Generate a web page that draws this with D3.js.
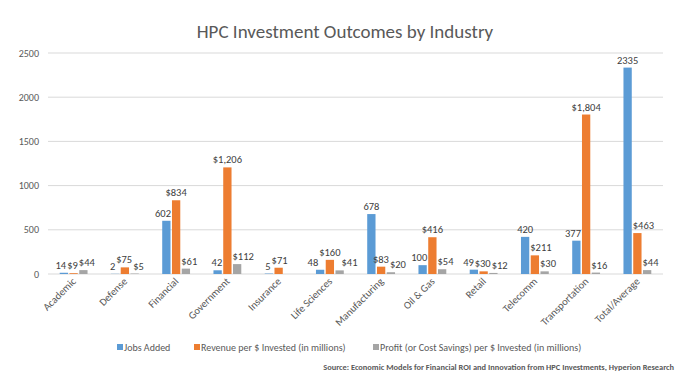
<!DOCTYPE html>
<html>
<head>
<meta charset="utf-8">
<script src="https://cdn.jsdelivr.net/npm/d3@7"></script>
<style>
  body { margin: 0; background: #fff; }
  text { font-family: Calibri, Carlito, "Open Sans", "Liberation Sans", sans-serif; }
</style>
</head>
<body>
<svg id="chart" width="689" height="385"></svg>
<script>
const categories = ["Academic", "Defense", "Financial", "Government", "Insurance", "Life Sciences",
  "Manufacturing", "Oil & Gas", "Retail", "Telecomm", "Transportation", "Total/Average"];
const jobs = [14, 2, 602, 42, 5, 48, 678, 100, 49, 420, 377, 2335];
const revenue = [9, 75, 834, 1206, 71, 160, 83, 416, 30, 211, 1804, 463];
const profit = [44, 5, 61, 112, null, 41, 20, 54, 12, 30, 16, 44];
const seriesNames = ["Jobs Added", "Revenue per $ Invested (in millions)", "Profit (or Cost Savings) per $ Invested (in millions)"];
const colors = ["#5B9BD5", "#ED7D31", "#A5A5A5"];
const yTicks = [0, 500, 1000, 1500, 2000, 2500];

const svg = d3.select("#chart");
const plotLeft = 48, plotRight = 663, plotTop = 53, plotBottom = 274;

const x = d3.scaleBand().domain(categories).range([plotLeft, plotRight]);
const xs = d3.scaleBand().domain([0, 1, 2]).range([0, x.bandwidth()]).paddingOuter(1.2).paddingInner(0.15);
const y = d3.scaleLinear().domain([0, 2500]).range([plotBottom, plotTop]);

svg.append("text")
  .attr("x", 345).attr("y", 38)
  .attr("text-anchor", "middle")
  .attr("font-size", 19)
  .attr("fill", "#595959")
  .text("HPC Investment Outcomes by Industry");

// gridlines
svg.append("g").selectAll("line")
  .data(yTicks)
  .enter().append("line")
  .attr("x1", plotLeft).attr("x2", plotRight)
  .attr("y1", d => y(d)).attr("y2", d => y(d))
  .attr("stroke", "#D9D9D9").attr("stroke-width", 1);

svg.append("g").selectAll("text")
  .data(yTicks)
  .enter().append("text")
  .attr("x", 39).attr("y", d => y(d) + 3.5)
  .attr("text-anchor", "end")
  .attr("font-size", 10)
  .attr("fill", "#595959")
  .text(d => d);

const all = [jobs, revenue, profit];
const fmt = [d => String(d), d => "$" + d3.format(",")(d), d => "$" + d3.format(",")(d)];

all.forEach(function(vals, s) {
  const items = vals.map((v, i) => ({v: v, c: categories[i]})).filter(d => d.v != null);
  svg.append("g").selectAll("rect")
    .data(items)
    .enter().append("rect")
    .attr("x", d => x(d.c) + xs(s))
    .attr("width", xs.bandwidth())
    .attr("y", d => y(d.v))
    .attr("height", d => plotBottom - y(d.v))
    .attr("fill", colors[s]);
});

// data labels, nudged sideways off taller neighbour bars and each other
const labelLayer = svg.append("g");
categories.forEach(function(c, i) {
  const labs = [];
  all.forEach(function(vals, s) {
    if (vals[i] == null) return;
    const t = labelLayer.append("text")
      .attr("text-anchor", "middle")
      .attr("font-size", 10.5)
      .attr("fill", "#404040")
      .text(fmt[s](vals[i]));
    labs.push({t: t, s: s, cx: x(c) + xs(s) + xs.bandwidth() / 2, y: y(vals[i]) - 4, w: t.node().getComputedTextLength()});
  });
  labs.forEach(function(l) {
    const prev = all[l.s - 1], next = all[l.s + 1];
    if (next && next[i] != null && y(next[i]) < l.y + 1) {
      const barL = x(c) + xs(l.s + 1);
      if (l.cx + l.w / 2 > barL - 1) l.cx = barL - 1 - l.w / 2;
    }
    if (prev && prev[i] != null && y(prev[i]) < l.y + 1) {
      const barR = x(c) + xs(l.s - 1) + xs.bandwidth();
      if (l.cx - l.w / 2 < barR + 1) l.cx = barR + 1 + l.w / 2;
    }
  });
  for (let k = 0; k < 4; k++) {
    for (let a = 0; a < labs.length - 1; a++) {
      const p = labs[a], q = labs[a + 1];
      if (Math.abs(p.y - q.y) < 11) {
        const gap = (q.cx - q.w / 2) - (p.cx + p.w / 2) - 1;
        if (gap < 0) { p.cx += gap / 2; q.cx -= gap / 2; }
      }
    }
  }
  labs.forEach(l => l.t.attr("x", l.cx).attr("y", l.y));
});

// x labels
svg.append("g").selectAll("text")
  .data(categories)
  .enter().append("text")
  .attr("transform", d => "translate(" + (x(d) + x.bandwidth() / 2 + 3) + "," + (plotBottom + 8) + ") rotate(-45)")
  .attr("text-anchor", "end")
  .attr("font-size", 10.5)
  .attr("fill", "#595959")
  .text(d => d);

// legend
const legendX = [117, 194, 373];
seriesNames.forEach(function(n, i) {
  svg.append("rect").attr("x", legendX[i]).attr("y", 344).attr("width", 6).attr("height", 6).attr("fill", colors[i]);
  svg.append("text").attr("x", legendX[i] + 7).attr("y", 350.5)
    .attr("font-size", 10).attr("fill", "#595959").text(n);
});

svg.append("text")
  .attr("x", 674).attr("y", 370)
  .attr("text-anchor", "end")
  .attr("font-size", 8.4)
  .attr("font-weight", "bold")
  .attr("fill", "#595959")
  .text("Source: Economic Models for Financial ROI and Innovation from HPC Investments, Hyperion Research");
</script>
</body>
</html>
